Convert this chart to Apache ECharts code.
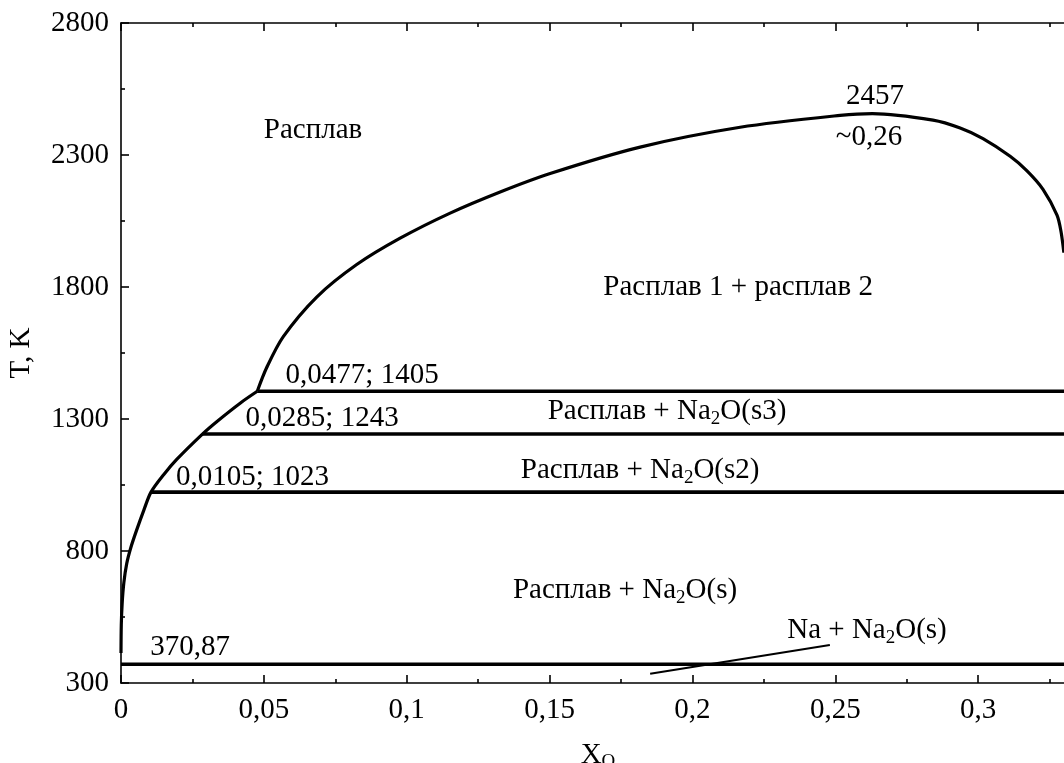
<!DOCTYPE html>
<html>
<head>
<meta charset="utf-8">
<script src="https://cdn.jsdelivr.net/npm/echarts@6/dist/echarts.min.js"></script>
<style>
html,body{margin:0;padding:0;background:#fff;}
#chart{width:1064px;height:763px;}
</style>
</head>
<body>
<div id="chart"></div>
<script>
// ---- data ----
const xMin = 0, xMax = 0.35, xInterval = 0.05;
const yMin = 300, yMax = 2800, yInterval = 500;

// liquidus from pure Na up to the monotectic point
const liquidusLeft = [
  [0.0, 414], [0.0001, 520], [0.0004, 600], [0.001, 680], [0.002, 752],
  [0.0035, 815], [0.0055, 880], [0.008, 955], [0.0105, 1023], [0.015, 1090],
  [0.0195, 1147], [0.0285, 1243], [0.0335, 1290], [0.0417, 1360], [0.0477, 1405]
];
// miscibility dome
const dome = [
  [0.0477, 1405], [0.051, 1495], [0.0568, 1612], [0.0685, 1762], [0.0825, 1885],
  [0.0977, 1985], [0.1152, 2080], [0.1327, 2160], [0.1502, 2230], [0.1817, 2330],
  [0.2167, 2405], [0.2517, 2450], [0.263, 2457], [0.2842, 2432], [0.2937, 2402],
  [0.3017, 2362], [0.3112, 2295], [0.3171, 2240], [0.3227, 2170], [0.3276, 2072],
  [0.329, 2010], [0.33, 1930]
];
// invariant (horizontal) lines: start x, temperature
const isoStartX = [0, 0.0105, 0.0285, 0.0477];
const isoTemp   = [370.87, 1023, 1243, 1405];
// leader line for "Na + Na2O(s)"
const leader = [[0.1852, 335], [0.2481, 444]];

// annotation texts and their positions (x, T)
const noteText = [
  'Расплав', '2457', '~0,26', 'Расплав 1 + расплав 2',
  '0,0477; 1405', '0,0285; 1243', '0,0105; 1023',
  'Расплав + Na{sub|2}O(s3)', 'Расплав + Na{sub|2}O(s2)',
  'Расплав + Na{sub|2}O(s)', 'Na + Na{sub|2}O(s)', '370,87'
];
const noteX = [0.0672, 0.2639, 0.2618, 0.216, 0.0844, 0.0704, 0.046, 0.1911, 0.1817, 0.1764, 0.2611, 0.0242];
const noteT = [2395, 2523, 2368, 1800, 1467, 1304, 1080, 1330, 1106, 652, 500, 436];

// ---- chart ----
const FONT = '"Liberation Serif", "DejaVu Serif", serif';
const FS = 29;
const SUB = 19;
const chart = echarts.init(document.getElementById('chart'), null, {renderer: 'canvas'});

function fmtX(v) {
  const r = Math.round(v * 1000) / 1000;
  return String(r).replace('.', ',');
}

const series = [];
series.push({
  type: 'line', data: liquidusLeft, smooth: 0.3, showSymbol: false,
  lineStyle: {color: '#000', width: 3.2}, z: 3
});
series.push({
  type: 'line', data: dome, smooth: 0.3, showSymbol: false,
  lineStyle: {color: '#000', width: 3.2}, z: 3
});
isoTemp.forEach((t, i) => {
  series.push({
    type: 'line', data: [[isoStartX[i], t], [xMax, t]], showSymbol: false,
    lineStyle: {color: '#000', width: 3.6}, z: 3
  });
});
series.push({
  type: 'line', data: leader, showSymbol: false,
  lineStyle: {color: '#000', width: 2}, z: 3
});
series.push({
  type: 'scatter', symbolSize: 0, z: 5,
  itemStyle: {opacity: 1},
  data: noteText.map((t, i) => ({value: [noteX[i], noteT[i]], name: t})),
  label: {
    show: true, position: 'inside', color: '#000', opacity: 1,
    fontFamily: FONT, fontSize: FS,
    formatter: p => p.name,
    rich: {
      sub: {fontFamily: FONT, fontSize: SUB, color: '#000', padding: [15, 0, 0, 0]}
    }
  },
  emphasis: {disabled: true}
});

const option = {
  backgroundColor: '#fff',
  animation: false,
  grid: {left: 121, top: 23, bottom: 80, right: -57, containLabel: false, outerBoundsMode: 'none'},
  xAxis: [{
    type: 'value', min: xMin, max: xMax, interval: xInterval,
    position: 'bottom',
    name: 'X{s|O}', nameLocation: 'middle', nameGap: 55,
    nameTextStyle: {
      fontFamily: FONT, fontSize: FS, color: '#000', padding: [0, 46, 0, 0],
      rich: {s: {fontFamily: FONT, fontSize: SUB, color: '#000', padding: [15, 0, 0, 0]}}
    },
    axisLine: {show: true, lineStyle: {color: '#000', width: 1.6}},
    axisTick: {show: true, inside: true, length: 8, lineStyle: {color: '#000', width: 1.6}},
    minorTick: {show: true, splitNumber: 2, length: 4, lineStyle: {color: '#000', width: 1.6}},
    axisLabel: {
      fontFamily: FONT, fontSize: FS, color: '#000', margin: 13,
      formatter: fmtX, showMaxLabel: false
    },
    splitLine: {show: false}
  }, {
    type: 'value', min: xMin, max: xMax, interval: xInterval,
    position: 'top',
    axisLine: {show: true, lineStyle: {color: '#000', width: 1.6}},
    axisTick: {show: true, inside: true, length: 8, lineStyle: {color: '#000', width: 1.6}},
    minorTick: {show: true, splitNumber: 2, length: 4, lineStyle: {color: '#000', width: 1.6}},
    axisLabel: {show: false},
    splitLine: {show: false}
  }],
  yAxis: {
    type: 'value', min: yMin, max: yMax, interval: yInterval,
    name: 'T, K', nameLocation: 'middle', nameGap: 85, nameRotate: 90,
    nameTextStyle: {fontFamily: FONT, fontSize: FS, color: '#000'},
    axisLine: {show: true, lineStyle: {color: '#000', width: 1.6}},
    axisTick: {show: true, inside: true, length: 8, lineStyle: {color: '#000', width: 1.6}},
    minorTick: {show: true, splitNumber: 2, length: 4, lineStyle: {color: '#000', width: 1.6}},
    axisLabel: {fontFamily: FONT, fontSize: FS, color: '#000', margin: 12, formatter: v => String(v)},
    splitLine: {show: false}
  },
  series: series
};
chart.setOption(option);
</script>
</body>
</html>
